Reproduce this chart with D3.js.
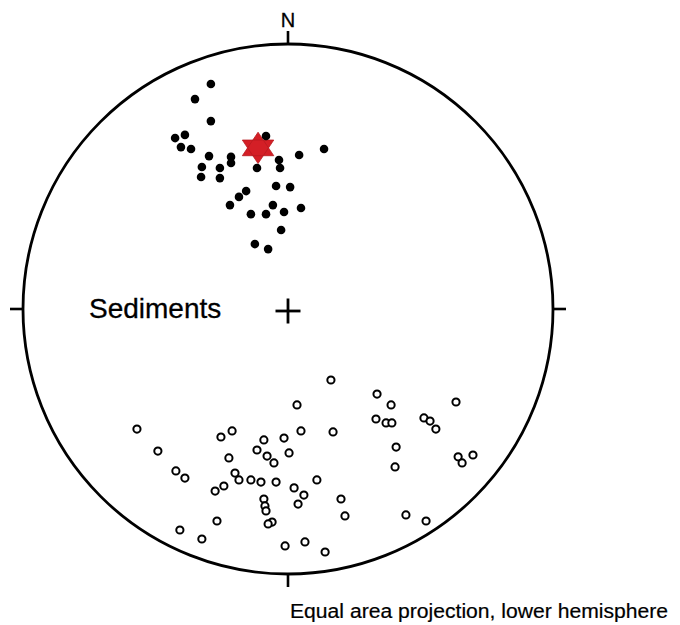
<!DOCTYPE html>
<html>
<head>
<meta charset="utf-8">
<script src="https://cdn.jsdelivr.net/npm/d3@7"></script>
<style>
  html, body { margin: 0; padding: 0; background: #fff; }
  svg { display: block; font-family: "Liberation Sans", Arial, sans-serif; }
</style>
</head>
<body>
<svg id="chart" width="680" height="625"></svg>
<script>
// Projected positions on the equal-area net, in percent of the net radius
// (east = +x, north = +y).
const normalDirections = [
  [-29.1, 84.9], [-35.1, 79.2], [-29.1, 70.9], [-8.3, 65.3], [-38.9, 65.7],
  [-42.6, 64.5], [-40.4, 61.1], [-36.6, 60.4], [13.6, 60.4], [-29.8, 57.7],
  [4.2, 58.1], [-21.5, 57.4], [-21.5, 55.1], [-3.4, 56.2], [-3.0, 53.2],
  [-11.7, 53.2], [-32.5, 53.6], [-25.7, 53.2], [-32.8, 49.8], [-25.7, 49.4],
  [-4.5, 46.4], [0.8, 46.0], [-15.8, 44.5], [-18.5, 42.3], [-21.9, 39.2],
  [-5.7, 39.2], [4.9, 38.1], [-14.0, 35.8], [-8.3, 35.8], [-1.5, 36.6],
  [-2.6, 29.8], [-12.5, 24.5], [-7.5, 22.6]
];

const reversedDirections = [
  [16.2, -26.8], [3.4, -36.2], [-57.0, -45.3], [-21.1, -46.0], [-25.3, -48.3],
  [-9.1, -49.4], [-1.5, -48.7], [4.9, -46.0], [17.0, -46.4], [-49.1, -53.6],
  [-11.7, -53.2], [-7.9, -55.5], [0.4, -54.3], [-22.3, -56.2], [-5.3, -58.1],
  [-42.3, -61.1], [-38.9, -63.8], [-20.0, -61.9], [-18.5, -64.5], [-14.0, -64.5],
  [-10.2, -65.3], [-4.5, -65.3], [-24.2, -66.8], [-27.5, -68.7], [2.3, -67.5],
  [6.0, -70.2], [10.9, -64.5], [-9.1, -71.7], [-8.7, -74.3], [-8.3, -76.2],
  [3.8, -73.6], [20.0, -71.7], [21.5, -78.1], [-26.8, -80.0], [-6.0, -80.4],
  [-7.5, -81.1], [-40.8, -83.4], [-32.5, -86.8], [-1.1, -89.4], [6.4, -87.9],
  [14.0, -91.7], [33.6, -32.1], [38.9, -36.2], [63.4, -35.1], [33.2, -41.5],
  [37.0, -43.0], [39.2, -43.0], [51.3, -41.1], [53.6, -42.3], [55.8, -45.3],
  [40.8, -52.1], [40.4, -59.6], [64.2, -55.8], [65.7, -58.1], [69.8, -55.1],
  [44.5, -77.7], [52.1, -80.0]
];

// Mean direction of the normal-polarity group
const meanDirection = [[-11.3, 60.8]];

const northLabel = "N";
const siteLabel = "Sediments";
const captionText = "Equal area projection, lower hemisphere";

const svg = d3.select("#chart");
const cx = 288, cy = 309, R = 265;

const x = d3.scaleLinear().domain([-100, 100]).range([cx - R, cx + R]);
const y = d3.scaleLinear().domain([-100, 100]).range([cy + R, cy - R]);

svg.append("rect").attr("width", 680).attr("height", 625).attr("fill", "#fff");

// Primitive circle of the net
svg.append("circle")
  .attr("cx", cx).attr("cy", cy).attr("r", R)
  .attr("fill", "none").attr("stroke", "#000").attr("stroke-width", 2.8);

// Cardinal ticks outside the primitive
const tickLen = 13;
const ticks = [
  [0, R, 0, R + tickLen],
  [0, -R, 0, -R - tickLen],
  [R, 0, R + tickLen, 0],
  [-R, 0, -R - tickLen, 0]
];
svg.append("g").selectAll("line").data(ticks).join("line")
  .attr("x1", d => cx + d[0]).attr("y1", d => cy - d[1])
  .attr("x2", d => cx + d[2]).attr("y2", d => cy - d[3])
  .attr("stroke", "#000").attr("stroke-width", 2.6);

// Centre cross
const arm = 12.5;
svg.append("g").selectAll("line").data([[-arm, 0, arm, 0], [0, -arm, 0, arm]]).join("line")
  .attr("x1", d => cx + d[0]).attr("y1", d => cy + 2 + d[1])
  .attr("x2", d => cx + d[2]).attr("y2", d => cy + 2 + d[3])
  .attr("stroke", "#000").attr("stroke-width", 2.8);

// North label
svg.append("text")
  .attr("x", cx).attr("y", 27)
  .attr("text-anchor", "middle")
  .attr("font-size", 20)
  .attr("fill", "#000")
  .attr("stroke", "#000").attr("stroke-width", 0.3)
  .text(northLabel);

// Site label
svg.append("text")
  .attr("x", 89).attr("y", 318)
  .attr("font-size", 28)
  .attr("fill", "#000")
  .attr("stroke", "#000").attr("stroke-width", 0.3)
  .text(siteLabel);

// Caption
svg.append("text")
  .attr("x", 290).attr("y", 618)
  .attr("font-size", 19.5)
  .attr("fill", "#000")
  .attr("stroke", "#000").attr("stroke-width", 0.2)
  .attr("textLength", 378).attr("lengthAdjust", "spacingAndGlyphs")
  .text(captionText);

// Six-pointed star for the mean direction
function hexagram(r) {
  const tri = (rot) => d3.range(3).map(i => {
    const a = rot + i * 2 * Math.PI / 3;
    return [r * Math.sin(a) * 1.1, -r * Math.cos(a) * 0.95];
  });
  const line = d3.line().curve(d3.curveLinearClosed);
  return line(tri(0)) + line(tri(Math.PI));
}
svg.append("g").selectAll("path").data(meanDirection).join("path")
  .attr("transform", d => `translate(${x(d[0])},${y(d[1])})`)
  .attr("d", hexagram(16.5))
  .attr("fill", "#d41f26")
  .attr("stroke", "#b81a20")
  .attr("stroke-width", 0.8);

// Lower-hemisphere (filled) directions
svg.append("g").selectAll("circle").data(normalDirections).join("circle")
  .attr("cx", d => x(d[0])).attr("cy", d => y(d[1]))
  .attr("r", 4.3)
  .attr("fill", "#000");

// Upper-hemisphere (open) directions
svg.append("g").selectAll("circle").data(reversedDirections).join("circle")
  .attr("cx", d => x(d[0])).attr("cy", d => y(d[1]))
  .attr("r", 3.6)
  .attr("fill", "#fff")
  .attr("stroke", "#000")
  .attr("stroke-width", 2);
</script>
</body>
</html>
